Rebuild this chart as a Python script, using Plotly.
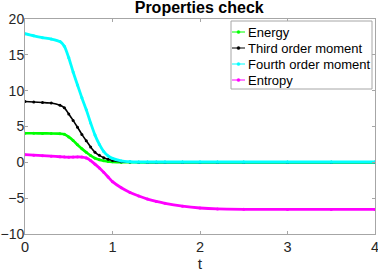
import plotly.graph_objects as go

t = [0, 0.1, 0.2, 0.3, 0.4, 0.45, 0.5, 0.55, 0.6, 0.65, 0.7, 0.75, 0.8, 0.85, 0.9, 0.95, 1.0,
     1.1, 1.2, 1.3, 1.4, 1.5, 1.6, 1.8, 2.0, 2.2, 2.5, 3.0, 3.5, 4.0]

energy = [4.05, 4.05, 4.04, 4.03, 4.0, 3.93, 3.55, 3.05, 2.45, 1.9, 1.4, 0.95, 0.58, 0.35, 0.22, 0.12, 0.07,
          0.02, 0.01, 0.0, 0.0, 0.0, 0.0, 0.0, 0.0, 0.0, 0.0, 0.0, 0.0, 0.0]
third = [8.48, 8.42, 8.35, 8.27, 7.95, 7.6, 6.75, 5.85, 4.9, 3.9, 3.0, 2.15, 1.4, 0.98, 0.65, 0.42, 0.25,
         0.08, 0.03, 0.01, 0.0, 0.0, 0.0, 0.0, 0.0, 0.0, 0.0, 0.0, 0.0, 0.0]
fourth = [17.95, 17.65, 17.4, 17.2, 16.85, 16.2, 14.6, 12.6, 10.8, 9.0, 7.35, 5.5, 3.8, 2.5, 1.5, 0.9, 0.55,
          0.2, 0.08, 0.05, 0.05, 0.05, 0.05, 0.05, 0.05, 0.05, 0.05, 0.05, 0.05, 0.05]
entropy = [1.07, 1.0, 0.93, 0.86, 0.78, 0.75, 0.72, 0.74, 0.75, 0.74, 0.62, 0.25, -0.25, -0.8, -1.4, -2.05, -2.7,
           -3.55, -4.2, -4.7, -5.13, -5.45, -5.72, -6.12, -6.37, -6.5, -6.55, -6.57, -6.57, -6.57]

series_names = ["Energy", "Third order moment", "Fourth order moment", "Entropy"]
series_values = [energy, third, fourth, entropy]
series_colors = ["#00ff00", "#000000", "#00ffff", "#ff00ff"]
series_widths = [2.6, 1.6, 2.8, 2.8]

x_ticks = [0, 1, 2, 3, 4]
y_ticks = [-10, -5, 0, 5, 10, 15, 20]

FONT = "Liberation Sans, Arial"
W, H = 378, 273
ML, MR, MT, MB = 25, 3, 19, 39
PW, PH = W - ML - MR, H - MT - MB


def px_x(p):
    return (p - ML) / PW


def px_y(p):
    return (H - MB - p) / PH


fig = go.Figure()
for name, vals, col, w in zip(series_names, series_values, series_colors, series_widths):
    fig.add_trace(go.Scatter(
        x=t, y=vals, name=name, mode="lines+markers",
        line=dict(color=col, width=w, shape="spline", smoothing=0.6),
        marker=dict(color=col, size=3, symbol="circle"),
        showlegend=False,
    ))

# custom MATLAB-style legend
shapes = [dict(type="rect", xref="paper", yref="paper",
               x0=px_x(231), x1=px_x(372), y0=px_y(89), y1=px_y(21),
               line=dict(color="#a6a6a6", width=1), fillcolor="white", layer="above")]
annotations = []
for i, (name, col) in enumerate(zip(series_names, series_colors)):
    yc = 32 + 16 * i
    shapes.append(dict(type="line", xref="paper", yref="paper",
                       x0=px_x(232), x1=px_x(245), y0=px_y(yc), y1=px_y(yc),
                       line=dict(color=col, width=1), layer="above"))
    shapes.append(dict(type="circle", xref="paper", yref="paper",
                       x0=px_x(237), x1=px_x(240), y0=px_y(yc + 1.5), y1=px_y(yc - 1.5),
                       line=dict(color=col, width=0.5), fillcolor=col, layer="above"))
    annotations.append(dict(xref="paper", yref="paper", x=px_x(245.5), y=px_y(yc),
                            xanchor="left", yanchor="middle", showarrow=False, text=name,
                            font=dict(family=FONT, size=13, color="#000000")))

axis_common = dict(
    showline=True, linecolor="#a6a6a6", linewidth=1, mirror="ticks",
    ticks="inside", ticklen=3, tickcolor="#a6a6a6",
    showgrid=False, zeroline=False, automargin=False,
    ticklabeloverflow="allow",
)

fig.update_layout(
    width=W, height=H,
    margin=dict(l=ML, r=MR, t=MT, b=MB),
    paper_bgcolor="white", plot_bgcolor="white",
    title=dict(text="<b>Properties check</b>", x=0.527, xanchor="center", y=0.972, yanchor="middle",
               font=dict(family=FONT, size=16, color="#000000")),
    xaxis=dict(range=[0, 4], tickvals=x_ticks, title=dict(text="t", standoff=2,
               font=dict(family=FONT, size=15.5, color="#262626")),
               tickfont=dict(family=FONT, size=14.5, color="#262626"), **axis_common),
    yaxis=dict(range=[-10, 20], tickvals=y_ticks, ticklabelstandoff=-3,
               tickfont=dict(family=FONT, size=14, color="#262626"), **axis_common),
    shapes=shapes,
    annotations=annotations,
    showlegend=False,
)

fig.write_html("out.html", config={"displayModeBar": False},
               post_script="document.body.style.margin='0';document.body.style.overflow='hidden';")
